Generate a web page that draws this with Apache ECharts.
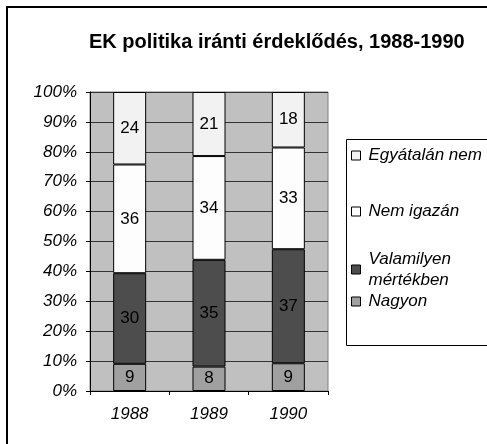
<!DOCTYPE html>
<html>
<head>
<meta charset="utf-8">
<script src="https://cdn.jsdelivr.net/npm/echarts@6/dist/echarts.min.js"></script>
<style>
    html, body {margin: 0; padding: 0; background: #fff;}
    #chartDiv {width: 487px; height: 444px;}
</style>
</head>
<body>
<div id="chartDiv"></div>
<script>
// 数据
var years = ['1988', '1989', '1990'];
var seriesNames = ['Nagyon', 'Valamilyen mértékben', 'Nem igazán', 'Egyátalán nem'];
var nagyon = [9, 8, 9];
var valamilyen = [30, 35, 37];
var nemIgazan = [36, 34, 33];
var egyaltalan = [24, 21, 18];
var yTicks = [0, 10, 20, 30, 40, 50, 60, 70, 80, 90, 100];

var colors = ['#a0a0a0', '#4d4d4d', '#fdfdfd', '#f2f2f2'];
var fontName = '"Liberation Sans", Arial, sans-serif';

// 100%堆叠：按每年总和换算
function toPercent(values) {
    var all = [nagyon, valamilyen, nemIgazan, egyaltalan];
    return values.map(function (v, i) {
        var sum = 0;
        all.forEach(function (arr) { sum += arr[i]; });
        return {value: v / sum * 100, raw: v};
    });
}

function buildSeries() {
    var raws = [nagyon, valamilyen, nemIgazan, egyaltalan];
    return raws.map(function (arr, k) {
        return {
            name: seriesNames[k],
            type: 'bar',
            stack: 'all',
            barWidth: 33,
            data: toPercent(arr),
            itemStyle: {color: colors[k], borderColor: '#000', borderWidth: 1},
            label: {
                show: true,
                position: 'inside',
                color: '#000',
                fontFamily: fontName,
                fontSize: 17,
                formatter: function (p) { return p.data.raw; }
            },
            emphasis: {disabled: true}
        };
    });
}

// 图例：每项单独放置
function buildLegend(name, top, extra) {
    var lg = {
        data: [name],
        left: 351,
        top: top,
        padding: 0,
        icon: 'rect',
        itemWidth: 9,
        itemHeight: 9,
        itemGap: 0,
        selectedMode: false,
        itemStyle: {borderColor: '#000', borderWidth: 1},
        textStyle: {fontFamily: fontName, fontStyle: 'italic', fontSize: 17, color: '#000', padding: [0, 0, 0, 3]}
    };
    if (extra) {
        lg.formatter = extra.formatter;
        lg.textStyle.lineHeight = extra.lineHeight;
        lg.textStyle.padding = [extra.lineHeight, 0, 0, 3];
    }
    return lg;
}

var chart = echarts.init(document.getElementById('chartDiv'));
var option = {
    animation: false,
    backgroundColor: '#fff',
    title: {
        text: 'EK politika iránti érdeklődés, 1988-1990',
        left: 89,
        top: 32,
        padding: 0,
        textStyle: {fontFamily: fontName, fontSize: 20, fontWeight: 'bold', color: '#000'}
    },
    legend: [
        buildLegend('Egyátalán nem', 147),
        buildLegend('Nem igazán', 203),
        buildLegend('Valamilyen mértékben', 238, {formatter: 'Valamilyen\nmértékben', lineHeight: 21}),
        buildLegend('Nagyon', 293)
    ],
    grid: {left: 90, right: 159, top: 92, bottom: 53, show: true, backgroundColor: '#c0c0c0', borderColor: '#808080', borderWidth: 1},
    xAxis: {
        type: 'category',
        data: years,
        boundaryGap: true,
        axisLine: {lineStyle: {color: '#000', width: 1}},
        axisTick: {show: true, length: 4, lineStyle: {color: '#000'}},
        axisLabel: {fontFamily: fontName, fontStyle: 'italic', fontSize: 17, color: '#000', margin: 15}
    },
    yAxis: {
        type: 'value',
        min: yTicks[0],
        max: yTicks[yTicks.length - 1],
        interval: 10,
        axisLine: {show: true, lineStyle: {color: '#000', width: 1}},
        axisTick: {show: true, length: 4, lineStyle: {color: '#000'}},
        splitLine: {show: true, lineStyle: {color: '#333', width: 1}},
        axisLabel: {fontFamily: fontName, fontStyle: 'italic', fontSize: 17, color: '#000', margin: 13, padding: [4, 0, 0, 0], formatter: '{value}%'}
    },
    series: buildSeries(),
    graphic: [
        // 外框
        {type: 'rect', z: 100, silent: true, shape: {x: 7, y: 7, width: 520, height: 520}, style: {fill: 'none', stroke: '#000', lineWidth: 2}},
        // 图例框
        {type: 'rect', z: 100, silent: true, shape: {x: 346.5, y: 139.5, width: 200, height: 206}, style: {fill: 'none', stroke: '#000', lineWidth: 1}}
    ]
};
chart.setOption(option);
</script>
</body>
</html>
